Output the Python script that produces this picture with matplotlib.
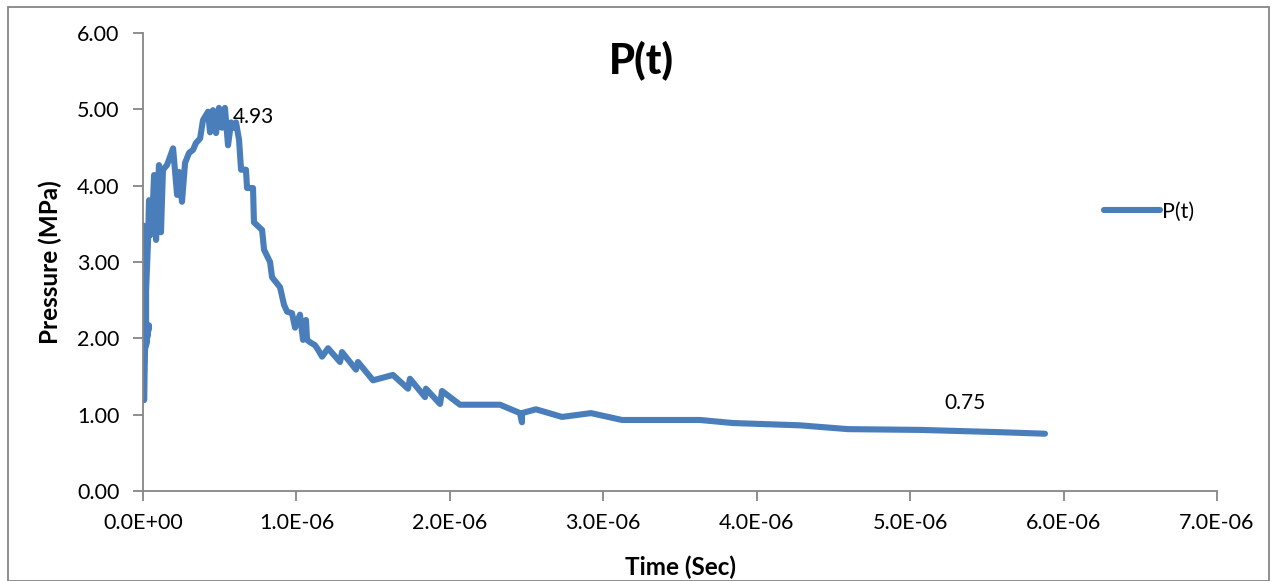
import matplotlib.pyplot as plt
from matplotlib.patches import Rectangle
from matplotlib.ticker import FuncFormatter

plt.rcParams['font.family'] = ['Lato', 'DejaVu Sans']

# time in units of 1E-6 s, pressure in MPa
t_us = [0.000, 0.007, 0.013, 0.039, 0.020, 0.020, 0.033, 0.039, 0.046, 0.059,
        0.072, 0.085, 0.091, 0.104, 0.117, 0.130, 0.156, 0.169, 0.196, 0.222,
        0.235, 0.254, 0.274, 0.300, 0.326, 0.345, 0.372, 0.391, 0.424, 0.437,
        0.456, 0.476, 0.495, 0.515, 0.534, 0.554, 0.574, 0.593, 0.606, 0.626,
        0.639, 0.671, 0.678, 0.717, 0.723, 0.776, 0.789, 0.828, 0.841, 0.893,
        0.919, 0.939, 0.971, 0.991, 1.023, 1.043, 1.062, 1.069, 1.088, 1.121,
        1.141, 1.167, 1.206, 1.284, 1.297, 1.388, 1.401, 1.499, 1.629, 1.727,
        1.740, 1.838, 1.844, 1.936, 1.949, 2.066, 2.327, 2.457, 2.470, 2.470,
        2.561, 2.731, 2.920, 3.122, 3.630, 3.845, 4.282, 4.595, 5.064, 5.586,
        5.879]
pressure = [3.48, 1.19, 1.85, 2.17, 1.91, 2.63, 3.29, 3.81, 3.35, 3.48,
            4.14, 3.29, 3.62, 4.27, 3.39, 4.21, 4.27, 4.34, 4.49, 3.88,
            4.18, 3.79, 4.30, 4.43, 4.47, 4.56, 4.62, 4.86, 4.97, 4.70,
            4.99, 4.69, 5.02, 4.76, 5.02, 4.53, 4.83, 4.76, 4.83, 4.60,
            4.21, 4.21, 3.97, 3.97, 3.52, 3.42, 3.16, 3.00, 2.80, 2.67,
            2.44, 2.35, 2.33, 2.14, 2.31, 1.98, 2.24, 1.98, 1.95, 1.91,
            1.85, 1.76, 1.87, 1.69, 1.82, 1.59, 1.69, 1.45, 1.52, 1.34,
            1.47, 1.23, 1.34, 1.14, 1.31, 1.13, 1.13, 1.02, 0.90, 1.02,
            1.07, 0.97, 1.02, 0.93, 0.93, 0.89, 0.86, 0.81, 0.80, 0.77,
            0.75]
t = [v * 1e-6 for v in t_us]

fig = plt.figure(figsize=(12.77, 5.81), dpi=100)
ax = fig.add_axes([0.112, 0.155, 0.841, 0.788])

ax.plot(t, pressure, color='#4a7ebb', lw=4.4, solid_joinstyle='round',
        solid_capstyle='round', label='P(t)')

ax.text(0.585e-6, 4.90, '4.93', fontsize=15, ha='left', va='center')
ax.text(5.36e-6, 1.15, '0.75', fontsize=15, ha='center', va='center')

ax.set_xlim(0, 7e-6)
ax.set_ylim(0, 6)
ax.set_xticks([i * 1e-6 for i in range(8)])
ax.set_yticks(range(7))
ax.xaxis.set_major_formatter(FuncFormatter(
    lambda v, p: '0.0E+00' if v == 0 else '%.1E' % v))
ax.yaxis.set_major_formatter(FuncFormatter(lambda v, p: '%.2f' % v))

for s in ['top', 'right']:
    ax.spines[s].set_visible(False)
for s in ['left', 'bottom']:
    ax.spines[s].set_color('#868686')
    ax.spines[s].set_linewidth(1.3)
ax.tick_params(axis='both', colors='#868686', labelcolor='black',
               labelsize=15.5, length=7, width=1.3)
ax.tick_params(axis='y', pad=10)
ax.tick_params(axis='x', pad=9)

fig.text(0.502, 0.897, 'P(t)', fontsize=30, fontweight='black',
         ha='center', va='center')
ax.set_xlabel('Time (Sec)', fontsize=17.5, fontweight='bold', labelpad=16)
ax.set_ylabel('Pressure (MPa)', fontsize=17.5, fontweight='bold', labelpad=11)

ax.legend(loc='center left', bbox_to_anchor=(0.877, 0.61), frameon=False,
          fontsize=15.5, handlelength=2.6, handletextpad=0.1)

fig.patches.append(Rectangle((0.006, 0.0), 0.988, 0.988, transform=fig.transFigure,
                             fill=False, edgecolor='#868686', lw=1.3))

fig.savefig('out.png', dpi=100)
